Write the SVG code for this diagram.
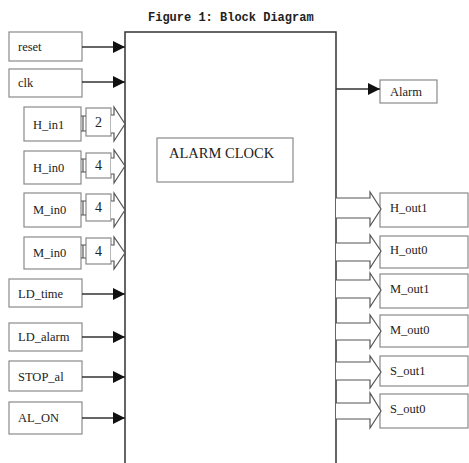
<svg xmlns="http://www.w3.org/2000/svg" width="469" height="463" viewBox="0 0 469 463">
<defs>
<style>
.box{fill:#fff;stroke:#8a8a8a;stroke-width:1.2}
.main{fill:#fff;stroke:#333;stroke-width:1.5}
.lbl{font-family:"Liberation Serif",serif;font-size:12.5px;fill:#222}
.num{font-family:"Liberation Serif",serif;font-size:14px;fill:#222;text-anchor:middle}
.wire{stroke:#333;stroke-width:1.3;fill:none}
.bus{stroke:#555;stroke-width:1.2;fill:#fff;stroke-linejoin:miter}
.title{font-family:"Liberation Mono",monospace;font-size:12px;font-weight:bold;fill:#222}
</style>
<marker id="ah" markerWidth="12" markerHeight="12" refX="12" refY="6" orient="auto" markerUnits="userSpaceOnUse">
<path d="M0,0 L12,6 L0,12 Z" fill="#111"/>
</marker>
</defs>
<rect width="469" height="463" fill="#fff"/>
<text class="title" x="148" y="21">Figure 1: Block Diagram</text>

<g id="alarm-clock">
<path class="main" d="M125,470 L125,32 L336,32 L336,470"/>
<rect class="box" x="157" y="138" width="136" height="44"/>
<text x="169" y="158" style="font-family:'Liberation Serif',serif;font-size:14.5px;fill:#222">ALARM CLOCK</text>
</g>

<g id="reset"><rect class="box" x="9" y="32" width="73" height="29"/><text class="lbl" x="18" y="51">reset</text></g>
<g id="clk"><rect class="box" x="9" y="69" width="73" height="28"/><text class="lbl" x="18" y="87">clk</text></g>
<g id="H_in1"><rect class="box" x="24" y="107" width="57" height="34"/><text class="lbl" x="33" y="129">H_in1</text>
<rect class="box" x="86" y="108" width="25" height="28"/><text class="num" x="98.5" y="127">2</text></g>
<g id="H_in0"><rect class="box" x="24" y="151" width="57" height="33"/><text class="lbl" x="33" y="172">H_in0</text>
<rect class="box" x="86" y="153" width="25" height="25"/><text class="num" x="98.5" y="170">4</text></g>
<g id="M_in0_a"><rect class="box" x="24" y="193" width="57" height="34"/><text class="lbl" x="33" y="214">M_in0</text>
<rect class="box" x="86" y="194" width="25" height="27"/><text class="num" x="98.5" y="212">4</text></g>
<g id="M_in0_b"><rect class="box" x="24" y="237" width="57" height="32"/><text class="lbl" x="33" y="257">M_in0</text>
<rect class="box" x="86" y="238" width="25" height="26"/><text class="num" x="98.5" y="256">4</text></g>
<g id="LD_time"><rect class="box" x="9" y="279" width="73" height="28"/><text class="lbl" x="18" y="298">LD_time</text></g>
<g id="LD_alarm"><rect class="box" x="9" y="323" width="73" height="28"/><text class="lbl" x="18" y="341">LD_alarm</text></g>
<g id="STOP_al"><rect class="box" x="9" y="361" width="73" height="30"/><text class="lbl" x="18" y="381">STOP_al</text></g>
<g id="AL_ON"><rect class="box" x="9" y="402" width="73" height="32"/><text class="lbl" x="18" y="422">AL_ON</text></g>

<g id="Alarm"><rect class="box" x="380" y="80" width="57" height="23"/><text class="lbl" x="390" y="96">Alarm</text></g>
<g id="H_out1"><rect class="box" x="380" y="193" width="88" height="34"/><text class="lbl" x="390" y="212">H_out1</text></g>
<g id="H_out0"><rect class="box" x="380" y="236" width="88" height="32"/><text class="lbl" x="390" y="254">H_out0</text></g>
<g id="M_out1"><rect class="box" x="380" y="274" width="88" height="34"/><text class="lbl" x="390" y="293">M_out1</text></g>
<g id="M_out0"><rect class="box" x="380" y="315" width="88" height="32"/><text class="lbl" x="390" y="334">M_out0</text></g>
<g id="S_out1"><rect class="box" x="380" y="356" width="88" height="30"/><text class="lbl" x="390" y="375">S_out1</text></g>
<g id="S_out0"><rect class="box" x="380" y="394" width="88" height="34"/><text class="lbl" x="390" y="413">S_out0</text></g>

<g id="connectors">
<line class="wire" x1="82" y1="47" x2="125" y2="47" marker-end="url(#ah)"/>
<line class="wire" x1="82" y1="82" x2="125" y2="82" marker-end="url(#ah)"/>
<line class="wire" x1="82" y1="294" x2="125" y2="294" marker-end="url(#ah)"/>
<line class="wire" x1="82" y1="337" x2="125" y2="337" marker-end="url(#ah)"/>
<line class="wire" x1="82" y1="377" x2="125" y2="377" marker-end="url(#ah)"/>
<line class="wire" x1="82" y1="418" x2="125" y2="418" marker-end="url(#ah)"/>
<line class="wire" x1="336" y1="89" x2="380" y2="89" marker-end="url(#ah)"/>

<path class="bus" d="M81,116 L86,116 M81,131 L86,131 M83,116 L83,131"/>
<path class="bus" d="M111,115 L114,115 L114,107 L125,124 L114,141 L114,133 L111,133"/>
<path class="bus" d="M81,159 L86,159 M81,172 L86,172 M83,159 L83,172"/>
<path class="bus" d="M111,158 L114,158 L114,150 L125,166 L114,183 L114,174 L111,174"/>
<path class="bus" d="M81,201 L86,201 M81,215 L86,215 M83,201 L83,215"/>
<path class="bus" d="M111,201 L114,201 L114,193 L125,210 L114,227 L114,219 L111,219"/>
<path class="bus" d="M81,245 L86,245 M81,258 L86,258 M83,245 L83,258"/>
<path class="bus" d="M111,245 L114,245 L114,237 L125,253 L114,269 L114,261 L111,261"/>

<path class="bus" d="M336,198 L370,198 L370,192 L381,209 L370,226 L370,218 L336,218"/>
<path class="bus" d="M336,243 L370,243 L370,235 L381,251 L370,268 L370,261 L336,261"/>
<path class="bus" d="M336,280 L370,280 L370,273 L381,290 L370,307 L370,298 L336,298"/>
<path class="bus" d="M336,323 L370,323 L370,315 L381,331 L370,348 L370,340 L336,340"/>
<path class="bus" d="M336,362 L370,362 L370,356 L381,372 L370,388 L370,380 L336,380"/>
<path class="bus" d="M336,403 L370,403 L370,393 L381,411 L370,428 L370,419 L336,419"/>
</g>
</svg>
